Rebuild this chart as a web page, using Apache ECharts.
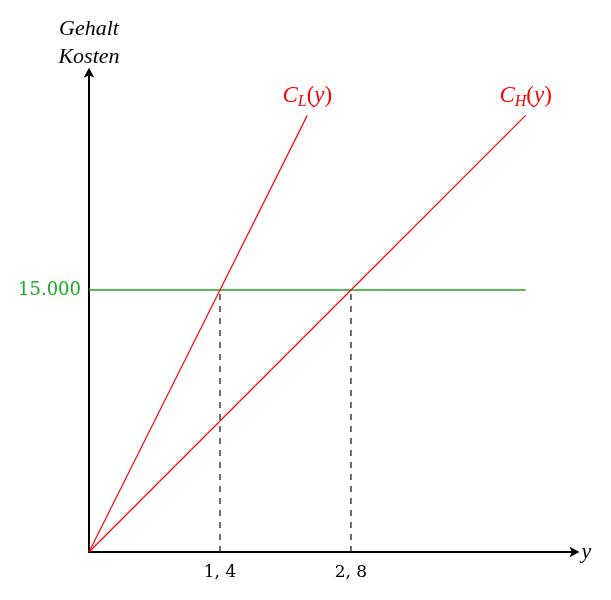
<!DOCTYPE html>
<html><head><meta charset="utf-8">
<script src="https://cdn.jsdelivr.net/npm/echarts@6/dist/echarts.min.js"></script>
<style>html,body{margin:0;padding:0;background:#fff}#c{width:611px;height:600px}</style>
</head><body><div id="c"></div>
<script>
const xTicks = [1.4, 2.8];
const xTickLabels = ['1, 4', '2, 8'];
const yTicks = [15000];
const yTickLabels = ['15.000'];
const cL = [[0, 0], [1.4, 15000], [2.333, 25000]];
const cH = [[0, 0], [2.8, 15000], [4.667, 25000]];
const income = [[0, 15000], [4.667, 15000]];
const drop1 = [[1.4, 0], [1.4, 15000]];
const drop2 = [[2.8, 0], [2.8, 15000]];

const FONT = 'DejaVu Serif';
const IFONT = 'Liberation Serif';
const GREEN = '#1ea81e';
const chart = echarts.init(document.getElementById('c'));
function endMark(data, sub) {
  return {
    symbol: 'rect', symbolSize: 1, silent: true,
    itemStyle: {color: 'rgba(0,0,0,0)'},
    label: {
      show: true, position: 'top', distance: 5,
      formatter: '{i|C}{s|' + sub + '}{n|(}{i|y}{n|)}',
      rich: {
        i: {fontFamily: IFONT, fontStyle: 'italic', fontSize: 23, color: '#ff0000'},
        s: {fontFamily: IFONT, fontStyle: 'italic', fontSize: 16, color: '#ff0000', padding: [11, 0, 0, 0]},
        n: {fontFamily: IFONT, fontSize: 23, color: '#ff0000'}
      }
    },
    data: [{coord: data[data.length - 1]}]
  };
}
chart.setOption({
  animation: false,
  grid: {left: 89, top: 71.7, width: 486.5, height: 480.3, containLabel: false},
  xAxis: {
    type: 'value', min: 0, max: 5.2, interval: 1.4,
    name: 'y', nameLocation: 'end', nameGap: 6,
    nameTextStyle: {fontFamily: IFONT, fontStyle: 'italic', fontSize: 22, color: '#000', padding: [0, 0, 4, 0]},
    axisLine: {lineStyle: {color: '#000', width: 2}, symbol: ['none', 'arrow'], symbolSize: [8, 10], symbolOffset: [0, 4]},
    axisTick: {show: false}, splitLine: {show: false},
    axisLabel: {
      fontFamily: FONT, fontSize: 17, color: '#000', margin: 12, showMaxLabel: false,
      formatter: v => { const k = xTicks.findIndex(t => Math.abs(t - v) < 1e-6); return k >= 0 ? xTickLabels[k] : ''; }
    }
  },
  yAxis: {
    type: 'value', min: 0, max: 27500, interval: 15000,
    name: 'Gehalt\nKosten', nameLocation: 'end', nameGap: 0,
    nameTextStyle: {fontFamily: IFONT, fontStyle: 'italic', fontSize: 22, color: '#000', lineHeight: 28, align: 'center'},
    axisLine: {lineStyle: {color: '#000', width: 2}, symbol: ['none', 'arrow'], symbolSize: [8, 10], symbolOffset: [0, 4]},
    axisTick: {show: false}, splitLine: {show: false},
    axisLabel: {
      fontFamily: FONT, fontSize: 18, color: GREEN, margin: 8, showMaxLabel: false, padding: [6, 0, 0, 0],
      formatter: v => { const k = yTicks.findIndex(t => Math.abs(t - v) < 1e-6); return k >= 0 ? yTickLabels[k] : ''; }
    }
  },
  series: [
    {type: 'line', data: drop1, symbol: 'none', lineStyle: {color: '#222', width: 1.3, type: [6, 6]}},
    {type: 'line', data: drop2, symbol: 'none', lineStyle: {color: '#222', width: 1.3, type: [6, 6]}},
    {type: 'line', data: income, symbol: 'none', lineStyle: {color: GREEN, width: 1.3}},
    {type: 'line', data: cL, symbol: 'none', lineStyle: {color: '#ff0000', width: 1.2}, markPoint: endMark(cL, 'L')},
    {type: 'line', data: cH, symbol: 'none', lineStyle: {color: '#ff0000', width: 1.2}, markPoint: endMark(cH, 'H')}
  ]
});
</script></body></html>
